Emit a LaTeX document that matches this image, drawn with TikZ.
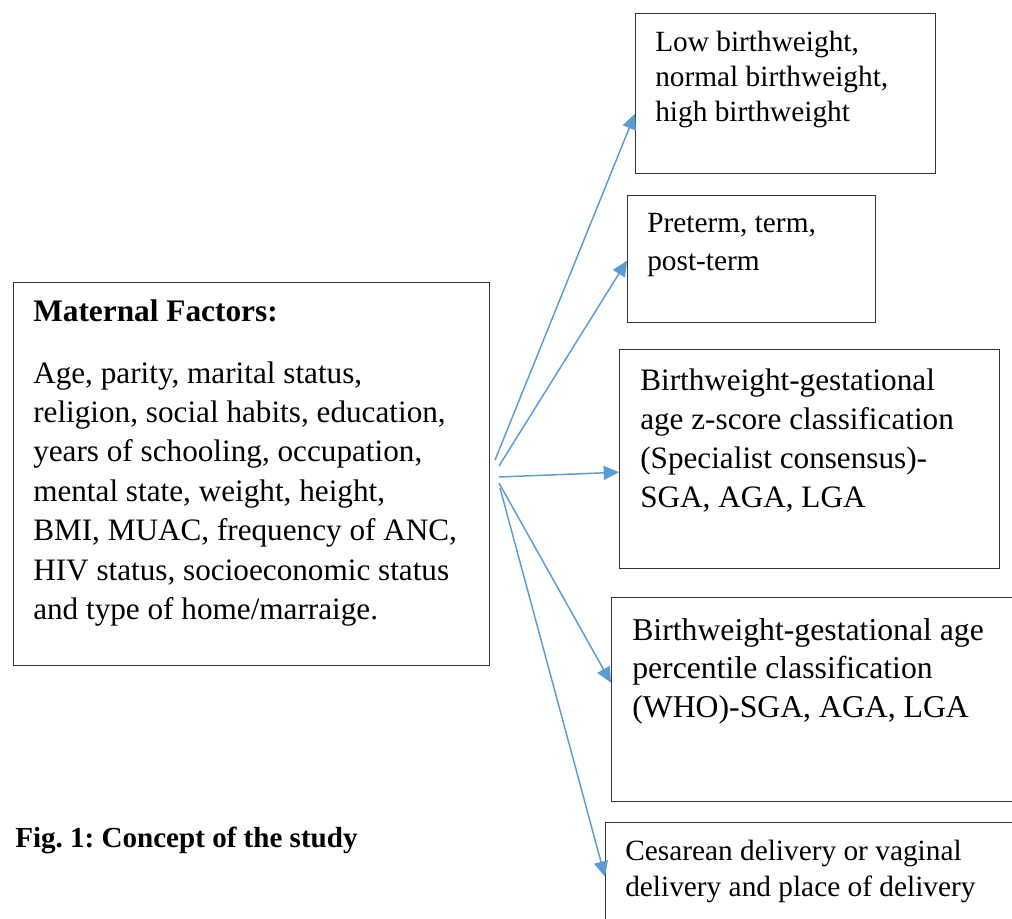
\documentclass[tikz,border=0pt]{standalone}
\usepackage{fontspec}
\setmainfont{Liberation Serif}
\usepackage{tikz}
\usetikzlibrary{arrows.meta}
\frenchspacing

\definecolor{linkblue}{HTML}{5B9BD5}
\newcommand{\bodyfont}[2]{\fontsize{#1}{#2}\selectfont}

\begin{document}
\begin{tikzpicture}[x=0.75pt,y=-0.75pt,
    box/.style={draw=black!80, line width=1.1pt, inner sep=0pt, anchor=north west},
    txt/.style={inner sep=0pt, anchor=base west, align=flush left, text width=#1},
    link/.style={draw=linkblue, line width=1.1pt, -{Triangle[length=11.5pt,width=10.5pt]}}]
    \clip (0,0) rectangle (1012,919);
    % boxes
    \node[box, minimum width=357pt, minimum height=287.25pt] (maternal) at (13,282) {};
    \node[box, minimum width=225pt, minimum height=120pt] (weight) at (635,13) {};
    \node[box, minimum width=186pt, minimum height=95.25pt] (term) at (627,195) {};
    \node[box, minimum width=285pt, minimum height=164.25pt] (zscore) at (619,349) {};
    \node[box, minimum width=315pt, minimum height=153pt] (pctl) at (611,597) {};
    \node[box, minimum width=315pt, minimum height=97.5pt] (delivery) at (605,822) {};
    % texts
    \node[txt=340pt, font={\bodyfont{23.5pt}{29.6pt}\bfseries}] (maternal-head) at (33,322)
        {Maternal Factors:};
    \node[txt=340pt, font={\bodyfont{23.4pt}{29.6pt}}] (maternal-text) at (33,383)
        {Age, parity, marital status,\\
         religion, social habits, education,\\
         years of schooling, occupation,\\
         mental state, weight, height,\\
         BMI, MUAC, frequency of ANC,\\
         HIV status, socioeconomic status\\
         and type of home/marraige.};
    \node[txt=220pt, font={\bodyfont{22pt}{26.25pt}}] (weight-text) at (655,52)
        {Low birthweight,\\ normal birthweight,\\ high birthweight};
    \node[txt=180pt, font={\bodyfont{22pt}{28.5pt}}] (term-text) at (647,233)
        {Preterm, term,\\ post-term};
    \node[txt=270pt, font={\bodyfont{23.4pt}{29.25pt}}] (zscore-text) at (640,390)
        {Birthweight-gestational\\ age z-score classification\\ (Specialist consensus)-\\ SGA, AGA, LGA};
    \node[txt=290pt, font={\bodyfont{23.8pt}{28.9pt}}] (pctl-text) at (632,640)
        {Birthweight-gestational age\\ percentile classification\\ (WHO)-SGA, AGA, LGA};
    \node[txt=290pt, font={\bodyfont{22pt}{27pt}}] (delivery-text) at (625,860)
        {Cesarean delivery or vaginal\\ delivery and place of delivery};
    \node[txt=340pt, font={\bodyfont{21.8pt}{26pt}\bfseries}] (caption) at (15,847)
        {Fig. 1: Concept of the study};
    % arrows
    \coordinate (s1) at (495,460);
    \coordinate (s2) at (499,466);
    \coordinate (s3) at (499,477);
    \coordinate (s4) at (499,483);
    \coordinate (s5) at (500,488);
    \draw[link] (s1) -- ([shift={(0,20)}]weight.west);
    \draw[link] (s2) -- ([shift={(0,1.5)}]term.west);
    \draw[link] (s3) -- ([shift={(0,13)}]zscore.west);
    \draw[link] (s4) -- ([shift={(0,-17)}]pctl.west);
    \draw[link] (s5) -- ([shift={(0,-11)}]delivery.west);
\end{tikzpicture}
\end{document}
